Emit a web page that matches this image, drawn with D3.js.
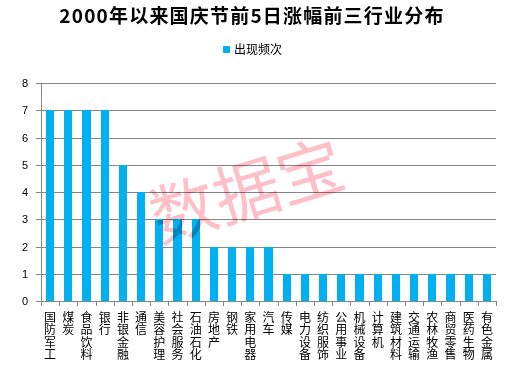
<!DOCTYPE html>
<html><head><meta charset="utf-8">
<script src="https://cdn.jsdelivr.net/npm/d3@7"></script>
<style>body{margin:0;background:#fff;}svg{display:block;font-family:"Noto Sans CJK SC","Noto Sans",sans-serif;}</style>
</head><body><svg id="c" width="505" height="374"></svg>
<script>
const categories = ["国防军工","煤炭","食品饮料","银行","非银金融","通信","美容护理","社会服务","石油石化","房地产","钢铁","家用电器","汽车","传媒","电力设备","纺织服饰","公用事业","机械设备","计算机","建筑材料","交通运输","农林牧渔","商贸零售","医药生物","有色金属"];
const values = [7,7,7,7,5,4,3,3,3,2,2,2,2,1,1,1,1,1,1,1,1,1,1,1,1];
const yTicks = [0,1,2,3,4,5,6,7,8];
const title = "2000年以来国庆节前5日涨幅前三行业分布";
const legendLabel = "出现频次";
const watermark = "数据宝";

const svg = d3.select("#c");
const L = 41, R = 496, T = 83, B = 301;
const x = d3.scaleBand().domain(categories).range([L, R]).paddingInner(0.56).paddingOuter(0.28);
const y = d3.scaleLinear().domain([0, 8]).range([B, T]);

// gridlines
svg.append("g").selectAll("line").data(yTicks.filter(d => d > 0)).join("line")
  .attr("x1", L).attr("x2", R).attr("y1", d => Math.round(y(d)) + 0.5).attr("y2", d => Math.round(y(d)) + 0.5)
  .attr("stroke", "#868686").attr("stroke-width", 1);

// bars
svg.append("g").selectAll("rect").data(values).join("rect")
  .attr("x", (d, i) => x(categories[i])).attr("width", x.bandwidth())
  .attr("y", d => y(d)).attr("height", d => B - y(d))
  .attr("fill", "#00B0F0").attr("shape-rendering", "crispEdges");

// y axis
const yAxis = svg.append("g").attr("transform", `translate(${L},0)`)
  .call(d3.axisLeft(y).tickValues(yTicks).tickSize(5).tickPadding(8).tickFormat(d3.format("d")));
yAxis.select(".domain").attr("stroke", "#868686").attr("shape-rendering", "crispEdges");
yAxis.selectAll(".tick line").attr("stroke", "#868686").attr("shape-rendering", "crispEdges");
yAxis.selectAll("text").attr("font-size", 11).attr("fill", "#000").attr("font-family", "Liberation Sans, DejaVu Sans, sans-serif");

// x axis baseline and ticks between categories
const xg = svg.append("g");
xg.append("line").attr("x1", L).attr("x2", R).attr("y1", B + 0.5).attr("y2", B + 0.5)
  .attr("stroke", "#868686");
const bounds = d3.range(categories.length + 1).map(i => L + (R - L) * i / categories.length);
xg.selectAll("line.t").data(bounds).join("line").attr("class", "t")
  .attr("x1", d => Math.round(d) + 0.5).attr("x2", d => Math.round(d) + 0.5)
  .attr("y1", B).attr("y2", B + 5).attr("stroke", "#868686");

// x labels: vertical text
svg.append("g").selectAll("text").data(categories).join("text")
  .attr("x", d => x(d) + x.bandwidth() / 2).attr("y", 311)
  .style("writing-mode", "vertical-rl").style("text-orientation", "upright")
  .attr("font-size", 12).attr("letter-spacing", 0.5).attr("fill", "#000").text(d => d);

// title
svg.append("text").attr("x", 252).attr("y", 23).attr("text-anchor", "middle")
  .attr("font-size", 19).attr("letter-spacing", 1.2).attr("font-weight", "bold").attr("fill", "#000").text(title);

// legend
svg.append("rect").attr("x", 223).attr("y", 46).attr("width", 7).attr("height", 7).attr("fill", "#00B0F0");
svg.append("text").attr("x", 234).attr("y", 53.5).attr("font-size", 12).attr("fill", "#000").text(legendLabel);

// watermark
svg.append("text").attr("transform", "translate(254,214) rotate(-17)")
  .attr("text-anchor", "middle").attr("font-size", 66).attr("fill", "#FFBFC8")
  .style("mix-blend-mode", "multiply").text(watermark);
</script></body></html>
